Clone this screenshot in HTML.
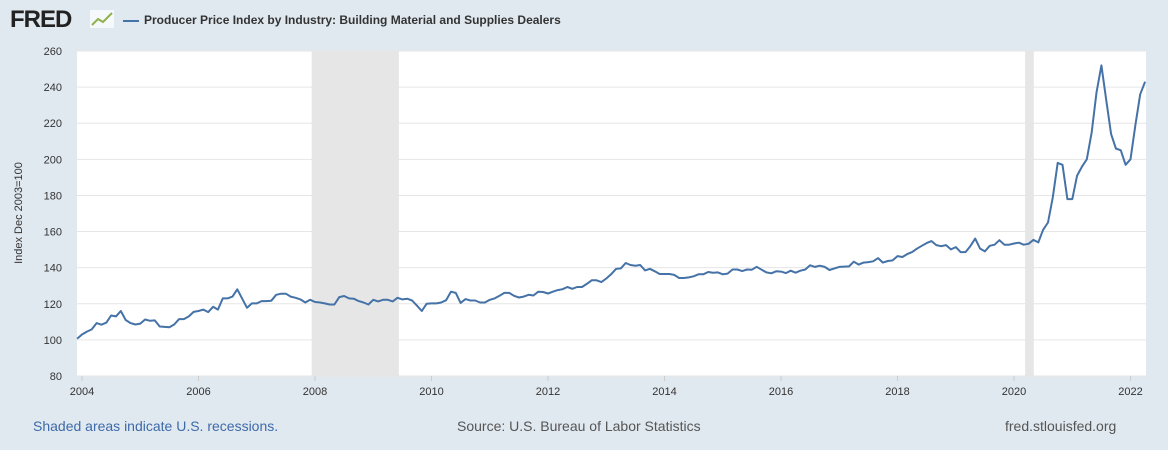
<!DOCTYPE html>
<html><head><meta charset="utf-8"><style>
body{margin:0;width:1168px;height:450px;background:#e1e9f0;font-family:"Liberation Sans",sans-serif;overflow:hidden;position:relative}
.t{position:absolute;white-space:nowrap}
</style></head><body>
<div class="t" style="left:10px;top:6px;font-size:24px;font-weight:bold;color:#222;letter-spacing:-1px">FRED</div>
<svg class="t" style="left:90px;top:10px" width="24" height="18"><rect width="24" height="18" fill="#fff" opacity="0.7"/><polyline points="2,15 8,9 13,12 22,3" fill="none" stroke="#8fb04a" stroke-width="2"/></svg>
<div class="t" style="left:123px;top:13px;font-size:12px;font-weight:bold;color:#333"><span style="display:inline-block;width:16px;height:2px;background:#4572a7;vertical-align:middle;margin-right:5px"></span>Producer Price Index by Industry: Building Material and Supplies Dealers</div>
<svg id="c" class="t" style="left:0;top:0" width="1168" height="450"></svg>
<div class="t" style="left:33px;top:418px;font-size:14px;color:#3d6aa8">Shaded areas indicate U.S. recessions.</div>
<div class="t" style="left:457px;top:418px;font-size:14px;color:#555">Source: U.S. Bureau of Labor Statistics</div>
<div class="t" style="left:1005px;top:418px;font-size:14px;color:#555">fred.stlouisfed.org</div>
<script>
const yTicks=[80,100,120,140,160,180,200,220,240,260];
const xTicks=[2004,2006,2008,2010,2012,2014,2016,2018,2020,2022];
const recessions=[[2007.943,2009.44],[2020.19,2020.34]];
const startYear=2003+11/12;
const values=[100.6,
103,104.6,105.8,109.3,108.4,109.5,113.5,113,116,111,109.3,108.5,
109,111.3,110.6,110.8,107.4,107.2,107,108.5,111.5,111.5,113,115.5,
116,116.8,115.4,118.3,116.8,123,123,124,128,122.8,117.8,120.2,
120.2,121.5,121.5,121.7,125,125.6,125.6,124,123.3,122.4,120.7,122.2,121,
120.7,120.2,119.6,119.6,123.7,124.3,123,122.8,121.5,120.7,119.6,122.2,
121.3,122.2,122.2,121.3,123.3,122.4,122.8,121.8,119,116,120,120.2,
120.2,120.7,122,126.7,126,120.5,122.6,121.8,121.8,120.7,120.7,122.2,
123,124.4,126,126,124.4,123.5,124,125,124.6,126.7,126.5,125.7,
126.7,127.6,128.1,129.3,128.3,129.3,129.3,131,133,133,132,134,
136.3,139.3,139.6,142.6,141.5,141.1,141.5,138.5,139.4,138,136.5,136.5,
136.5,136,134.3,134.3,134.6,135.2,136.3,136.3,137.6,137.2,137.4,136.3,
136.7,139,139,138.1,139,138.9,140.5,138.9,137.4,136.9,138,137.8,
137,138.3,137.2,138.3,139,141.3,140.4,141.1,140.4,138.7,139.6,140.4,
140.6,140.7,143.3,141.7,142.8,143.1,143.5,145.3,142.8,143.7,144,146.4,
145.9,147.5,148.6,150.5,152.1,153.6,154.7,152.5,151.9,152.5,150.1,151.4,
148.6,148.6,151.9,156.1,150.6,149,152.1,152.7,155.2,152.7,152.7,153.4,
153.8,152.7,153.2,155.4,154,161,165,179,198,197,178,
178,191,196,200,215,237,252,233,214,206,205,197,
200,219,236,243];
const X0=77,X1=1146,Y0=51,Y1=376;
const xs=t=>82+(t-2004)*58.25;
const ys=v=>Y1-(v-80)*(Y1-Y0)/180;
const svg=document.getElementById('c'),NS='http://www.w3.org/2000/svg';
function mk(tag,at,name){const e=document.createElementNS(NS,tag);for(const k in at)e.setAttribute(k,at[k]);


svg.appendChild(e);return e;}
mk('rect',{x:X0,y:Y0,width:X1-X0,height:Y1-Y0,fill:'#fff'},'plot-area');
recessions.forEach(r=>{mk('rect',{x:xs(r[0]),y:Y0,width:xs(r[1])-xs(r[0]),height:Y1-Y0,fill:'#e6e6e6'},'recession-shade');});
yTicks.forEach(v=>{mk('line',{x1:X0,x2:X1,y1:ys(v),y2:ys(v),stroke:'#e6e6e6','stroke-width':1},'grid-line');
const t=mk('text',{x:62,y:ys(v)+4,'text-anchor':'end','font-size':11,fill:'#333','font-family':'Liberation Sans'},'y-tick-label');t.textContent=v;});
xTicks.forEach(v=>{mk('line',{x1:xs(v),x2:xs(v),y1:Y1,y2:Y1+5,stroke:'#ccc'},'x-tick');
const t=mk('text',{x:xs(v),y:395,'text-anchor':'middle','font-size':11,fill:'#333','font-family':'Liberation Sans'},'x-tick-label');t.textContent=v;});
const yt=mk('text',{x:22,y:213,transform:'rotate(-90 22 213)','text-anchor':'middle','font-size':11,fill:'#333','font-family':'Liberation Sans'},'y-axis-title');yt.textContent='Index Dec 2003=100';
const pts=values.map((v,i)=>xs(startYear+i/12).toFixed(1)+','+ys(v).toFixed(1)).join(' ');
mk('polyline',{points:pts,fill:'none',stroke:'#4572a7','stroke-width':2,'stroke-linejoin':'round'},'series-line');
</script>
</body></html>
